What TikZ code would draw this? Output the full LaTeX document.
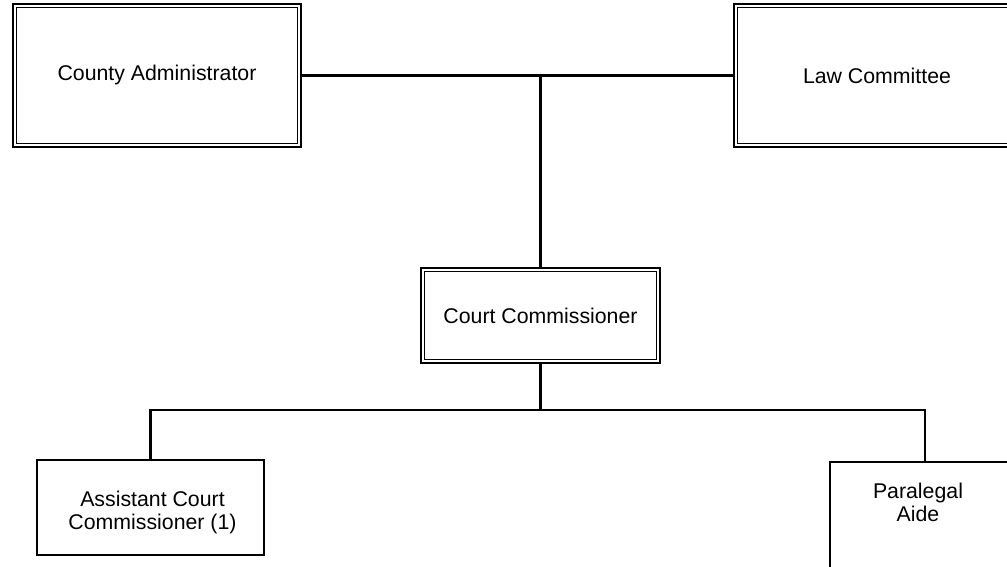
\documentclass[tikz,border=0pt]{standalone}
\usepackage{fontspec}
\setmainfont{Liberation Sans}
\usetikzlibrary{calc}
\begin{document}
\begin{tikzpicture}[x=1pt,y=1pt,
  every node/.style={font=\fontsize{21.3}{23}\selectfont, align=center, inner sep=0pt},
  dbox/.style={draw, line width=2.4pt, minimum width=#1},
  sbox/.style={draw, line width=2.1pt},
  inner/.style={line width=1.2pt},
  conn/.style={line width=2.4pt}]
\useasboundingbox (0,0) rectangle (1007,567);
\clip (0,0) rectangle (1007,567);
% top boxes
\node[dbox=288, minimum height=143] (ca) at (157,491.5) {County Administrator};
\node[dbox=286, minimum height=143] (lc) at (877,491.5) {Law Committee};
\node[dbox=239, minimum height=95] (cc) at (540.5,251.5) {Court Commissioner};
\foreach \n in {ca,lc,cc}
  \draw[inner] ([shift={(5,-5)}]\n.north west) rectangle ([shift={(-5,5)}]\n.south east);
% bottom boxes
\node[sbox, minimum width=227, minimum height=95,
  label={[name=acatext, xshift=2pt, yshift=-4.5pt]center:{Assistant Court\\Commissioner (1)}}] (aca) at (150.5,59.5) {};
\node[sbox, minimum width=190, minimum height=140, anchor=north,
  label={[name=patext, anchor=north, xshift=-7pt, yshift=-22pt]north:{Paralegal\\Aide}}] (pa) at (925,106) {};
% connectors
\draw[conn] (ca.east) -- (lc.west);
\draw[conn] (cc.north) -- (cc.north |- ca.east);
\coordinate (bus) at ($(cc.south)+(0,-46)$);
\coordinate (padrop) at (925,106);
\draw[conn] (cc.south) -- (bus);
\draw[conn] (aca.north) |- (bus) -| (padrop);
\end{tikzpicture}
\end{document}
